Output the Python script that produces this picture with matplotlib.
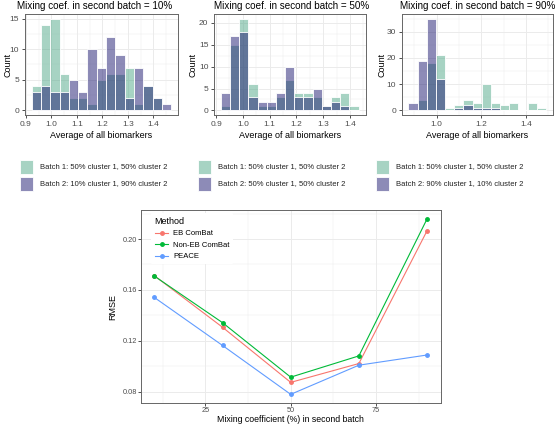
import matplotlib
matplotlib.use("Agg")
import matplotlib.pyplot as plt
import numpy as np
from matplotlib.patches import Rectangle
from matplotlib.ticker import MultipleLocator

plt.rcParams['font.family'] = ['Liberation Sans', 'DejaVu Sans']

# histogram data (counts per bin), one panel per mixing coefficient
titles = ["Mixing coef. in second batch = 10%",
          "Mixing coef. in second batch = 50%",
          "Mixing coef. in second batch = 90%"]
bin_start = [0.922, 0.9175, 0.8727]
bin_width = [0.0365, 0.0343, 0.0412]
batch1_10 = [4, 14, 15, 6, 2, 2, 1, 5, 6, 6, 7, 1, 4, 2, 0]
batch2_10 = [3, 4, 3, 3, 5, 3, 10, 7, 12, 9, 2, 7, 4, 2, 1]
batch1_50 = [1, 15, 21, 6, 1, 1, 3, 7, 4, 4, 3, 1, 3, 4, 1]
batch2_50 = [4, 17, 18, 3, 2, 2, 4, 10, 3, 3, 5, 1, 2, 1, 0]
batch1_90 = [0, 4, 18, 21, 1, 2, 4, 3, 10, 3, 2, 3, 0, 3, 1]
batch2_90 = [3, 19, 35, 12, 0, 1, 2, 1, 1, 1, 0, 0, 0, 0, 0]
batch1_labels = ["Batch 1: 50% cluster 1, 50% cluster 2"] * 3
batch2_labels = ["Batch 2: 10% cluster 1, 90% cluster 2",
                 "Batch 2: 50% cluster 1, 50% cluster 2",
                 "Batch 2: 90% cluster 1, 10% cluster 2"]
x_major = [0.1, 0.1, 0.2]
y_major = [5, 5, 10]

# RMSE data
mixing = [10, 30, 50, 70, 90]
rmse_eb = [0.1712, 0.1307, 0.0874, 0.1022, 0.2065]
rmse_noneb = [0.1709, 0.1343, 0.0915, 0.1082, 0.2158]
rmse_peace = [0.1541, 0.1164, 0.0780, 0.1009, 0.1089]
methods = ["EB ComBat", "Non-EB ComBat", "PEACE"]
method_colors = ["#F8766D", "#00BA38", "#619CFF"]

W, H = 560, 425
fig = plt.figure(figsize=(W / 100, H / 100), dpi=100)

def box(l, t, r, b):
    return [l / W, 1 - b / H, (r - l) / W, (b - t) / H]

def fx(px):
    return px / W

def fy(py):
    return 1 - py / H

col1 = (81/255, 169/255, 137/255, 0.5)
col2 = (29/255, 25/255, 113/255, 0.5)
grid_col = "#EBEBEB"
tick_col = "#4D4D4D"

def style(ax, fs):
    ax.grid(True, which='major', color=grid_col, lw=0.7)
    ax.grid(True, which='minor', color=grid_col, lw=0.35)
    ax.set_axisbelow(True)
    for s in ax.spines.values():
        s.set_color("#666666")
        s.set_linewidth(0.7)
    ax.tick_params(which='major', length=2.5, width=0.6, color="#333333",
                   labelsize=fs, labelcolor=tick_col, pad=1.5)
    ax.tick_params(which='minor', length=0)

panels = [box(24.6, 14, 178.2, 115), box(213.9, 14, 365.5, 115), box(401.5, 14, 552.9, 115)]
title_cx = [95, 292, 478]
count_x = [8, 193, 382]
key_x = [20, 198, 376]
b1_all = [batch1_10, batch1_50, batch1_90]
b2_all = [batch2_10, batch2_50, batch2_90]

for i in range(3):
    ax = fig.add_axes(panels[i])
    b1 = np.array(b1_all[i])
    b2 = np.array(b2_all[i])
    edges = bin_start[i] + bin_width[i] * np.arange(len(b1))
    ax.bar(edges, b1, width=bin_width[i], align='edge', color=col1, edgecolor='white', linewidth=0.6)
    ax.bar(edges, b2, width=bin_width[i], align='edge', color=col2, edgecolor='white', linewidth=0.6)
    lo = edges[0]
    hi = edges[-1] + bin_width[i]
    ax.set_xlim(lo - 0.05 * (hi - lo), hi + 0.05 * (hi - lo))
    top = max(b1.max(), b2.max())
    ax.set_ylim(-0.05 * top, 1.05 * top)
    ax.xaxis.set_major_locator(MultipleLocator(x_major[i]))
    ax.xaxis.set_minor_locator(MultipleLocator(x_major[i] / 2))
    ax.yaxis.set_major_locator(MultipleLocator(y_major[i]))
    ax.yaxis.set_minor_locator(MultipleLocator(y_major[i] / 2))
    ax.xaxis.set_major_formatter(lambda v, p: f"{v:.1f}")
    style(ax, 6)
    fig.text(fx(title_cx[i]), fy(6), titles[i], fontsize=7.1, ha='center', va='center')
    fig.text(fx(count_x[i]), fy(65), "Count", fontsize=6.5, rotation=90, ha='center', va='center')
    cx = (panels[i][0] + panels[i][2] / 2)
    fig.text(cx, fy(136), "Average of all biomarkers", fontsize=6.5, ha='center', va='center')
    # legend
    for j, (c, lab) in enumerate([(col1, batch1_labels[i]), (col2, batch2_labels[i])]):
        yc = [167, 184][j]
        fig.add_artist(Rectangle((fx(key_x[i]), fy(yc + 7)), 13 / W, 14 / H, transform=fig.transFigure,
                                 facecolor=c, edgecolor='white', linewidth=0.6))
        fig.text(fx(key_x[i] + 20), fy(yc), lab, fontsize=5.5, ha='left', va='center', color="#222222")

# RMSE plot
ax = fig.add_axes(box(140.7, 210, 440.7, 403))
for vals, lab, c in zip([rmse_eb, rmse_noneb, rmse_peace], methods, method_colors):
    ax.plot(mixing, vals, color=c, lw=0.8, marker='o', ms=2.5, label=lab)
ax.set_xlim(6, 94)
ax.set_ylim(0.0712, 0.2228)
ax.xaxis.set_major_locator(MultipleLocator(25))
ax.xaxis.set_minor_locator(MultipleLocator(12.5))
ax.yaxis.set_major_locator(MultipleLocator(0.04))
ax.yaxis.set_minor_locator(MultipleLocator(0.02))
ax.yaxis.set_major_formatter(lambda v, p: f"{v:.2f}")
style(ax, 5.3)
ax.tick_params(which='major', pad=0.8, length=2)
fig.text(fx(290.7), fy(419.5), "Mixing coefficient (%) in second batch", fontsize=6.3,
         ha='center', va='center')
ax.set_ylabel("RMSE", fontsize=6.5, labelpad=4)
leg = ax.legend(title="Method", loc='upper left', bbox_to_anchor=(fx(147), fy(209)),
                bbox_transform=fig.transFigure, frameon=True, fontsize=5.5, title_fontsize=6.5,
                handlelength=1.8, handletextpad=0.6, labelspacing=0.55, borderpad=0.5)
leg._legend_box.align = "left"
leg.get_frame().set_facecolor('white')
leg.get_frame().set_edgecolor('none')
leg.get_frame().set_alpha(1)

fig.savefig("out.png", dpi=100)
